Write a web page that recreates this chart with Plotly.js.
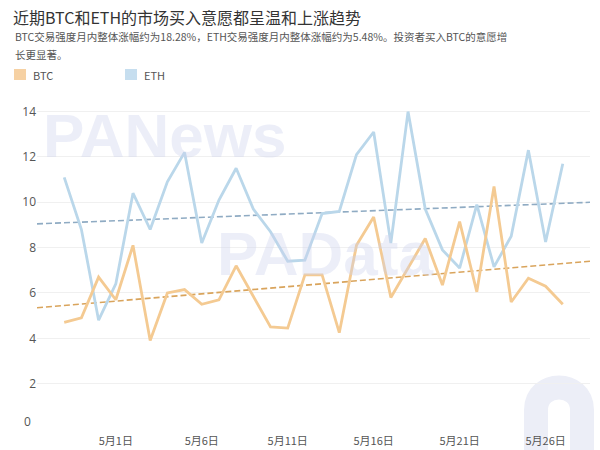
<!DOCTYPE html>
<html>
<head>
<meta charset="utf-8">
<script src="https://cdn.plot.ly/plotly-3.0.1.min.js"></script>
<style>html,body{margin:0;padding:0;background:#fff;}#chart{width:600px;height:450px;}</style>
</head>
<body>
<div id="chart"></div>
<script>
const dates = ['2021-04-28','2021-04-29','2021-04-30','2021-05-01','2021-05-02','2021-05-03','2021-05-04','2021-05-05','2021-05-06','2021-05-07',
  '2021-05-08','2021-05-09','2021-05-10','2021-05-11','2021-05-12','2021-05-13','2021-05-14','2021-05-15','2021-05-16','2021-05-17',
  '2021-05-18','2021-05-19','2021-05-20','2021-05-21','2021-05-22','2021-05-23','2021-05-24','2021-05-25','2021-05-26','2021-05-27'];
const btc = [4.7, 4.9, 6.7, 5.7, 8.1, 3.9, 6.0, 6.15, 5.5, 5.7,
  7.2, 5.85, 4.5, 4.45, 6.8, 6.8, 4.25, 8.1, 9.35, 5.8,
  7.1, 8.4, 6.35, 9.15, 6.05, 10.7, 5.6, 6.65, 6.3, 5.5];
const eth = [11.1, 8.8, 4.8, 6.4, 10.4, 8.8, 10.9, 12.2, 8.2, 10.1,
  11.5, 9.7, 8.7, 7.4, 7.45, 9.5, 9.6, 12.1, 13.1, 8.2,
  14.0, 9.7, 7.9, 7.1, 9.9, 7.15, 8.5, 12.3, 8.25, 11.7];
const xRange = ['2021-04-26 10:00', '2021-05-28 14:00'];
const btcTrend = [5.35, 7.4];
const ethTrend = [9.05, 10.0];
const tickDates = ['2021-05-01','2021-05-06','2021-05-11','2021-05-16','2021-05-21','2021-05-26'];
const tickLabels = ['5月1日','5月6日','5月11日','5月16日','5月21日','5月26日'];
const yTicks = [0, 2, 4, 6, 8, 10, 12, 14];
const yTickLabels = ['', '2', '4', '6', '8', '10', '12', '14'];
const titleText = '近期BTC和ETH的市场买入意愿都呈温和上涨趋势';
const subLine1 = 'BTC交易强度月内整体涨幅约为18.28%，ETH交易强度月内整体涨幅约为5.48%。投资者买入BTC的意愿增';
const subLine2 = '长更显著。';
const seriesNames = ['BTC', 'ETH'];

const W = 600, H = 450, L = 37, R = 10, T = 98, B = 21;
const pw = W - L - R, ph = H - T - B;
const px = x => (x - L) / pw;
const py = y => (H - B - y) / ph;

const cjk = '"Noto Sans CJK SC", "Noto Sans", sans-serif';
const btcColor = '#f4ca92', ethColor = '#bad7ea';

const traces = [
  {x: xRange, y: ethTrend, mode: 'lines', line: {color: '#8fabc3', width: 1.6, dash: '6px,3px'}, hoverinfo: 'skip', showlegend: false},
  {x: xRange, y: btcTrend, mode: 'lines', line: {color: '#d9a45c', width: 1.6, dash: '6px,3px'}, hoverinfo: 'skip', showlegend: false},
  {x: dates, y: eth, name: seriesNames[1], mode: 'lines', line: {color: ethColor, width: 2.8}, showlegend: false},
  {x: dates, y: btc, name: seriesNames[0], mode: 'lines', line: {color: btcColor, width: 2.8}, showlegend: false}
];

const wm = 'rgba(205,211,236,0.38)';
const layout = {
  width: W, height: H,
  margin: {l: L, r: R, t: T, b: B},
  paper_bgcolor: '#fff', plot_bgcolor: '#fff',
  font: {family: cjk, color: '#555'},
  title: {text: titleText, x: 13 / W, xanchor: 'left', xref: 'container', y: 1 - 18 / H, yanchor: 'middle', yref: 'container',
    font: {family: cjk, size: 16, color: '#333'}},
  xaxis: {type: 'date', range: xRange, tickvals: tickDates, ticktext: tickLabels, showgrid: false, zeroline: false,
    showline: false, ticks: '', ticklabelstandoff: 4, tickfont: {size: 11, color: '#555', family: cjk}},
  yaxis: {range: [0, 14.6], tickvals: yTicks, ticktext: yTickLabels, showgrid: true, gridcolor: '#f0f0f0', gridwidth: 1,
    zeroline: false, showline: false, ticks: '', tickfont: {size: 12, color: '#555', family: '"Open Sans", sans-serif'}},
  shapes: [
    {type: 'rect', xref: 'paper', yref: 'paper', x0: px(14), x1: px(26), y0: py(80), y1: py(69), fillcolor: '#f6d1a3', line: {width: 0}},
    {type: 'rect', xref: 'paper', yref: 'paper', x0: px(125), x1: px(137), y0: py(80), y1: py(69), fillcolor: '#c6deef', line: {width: 0}},
    {type: 'path', xref: 'paper', yref: 'paper', layer: 'below',
      path: 'M ' + px(536) + ',' + py(460) + ' L ' + px(536) + ',' + py(410) + ' C ' + px(536) + ',' + py(380) + ' ' + px(582) + ',' + py(380) + ' ' + px(582) + ',' + py(410) + ' L ' + px(582) + ',' + py(460),
      line: {color: '#eceef7', width: 24}}
  ],
  annotations: [
    {text: subLine1, xref: 'paper', yref: 'paper', x: px(13), y: py(36), xanchor: 'left', yanchor: 'middle', showarrow: false,
      font: {family: cjk, size: 10.5, color: '#555'}},
    {text: subLine2, xref: 'paper', yref: 'paper', x: px(13), y: py(54), xanchor: 'left', yanchor: 'middle', showarrow: false,
      font: {family: cjk, size: 10.5, color: '#555'}},
    {text: seriesNames[0], xref: 'paper', yref: 'paper', x: px(31), y: py(75), xanchor: 'left', yanchor: 'middle', showarrow: false,
      font: {family: cjk, size: 11, color: '#555'}},
    {text: seriesNames[1], xref: 'paper', yref: 'paper', x: px(142), y: py(75), xanchor: 'left', yanchor: 'middle', showarrow: false,
      font: {family: cjk, size: 11, color: '#555'}},
    {text: '0', xref: 'paper', yref: 'paper', x: px(33), y: py(421), xanchor: 'right', yanchor: 'middle', showarrow: false,
      font: {family: '"Open Sans", sans-serif', size: 12, color: '#555'}},
    {text: '<b>PANews</b>', xref: 'paper', yref: 'paper', x: px(165), y: py(135), xanchor: 'center', yanchor: 'middle', showarrow: false,
      font: {family: '"Liberation Sans", Arial, sans-serif', size: 62, color: wm}},
    {text: '<b>PAData</b>', xref: 'paper', yref: 'paper', x: px(325), y: py(253), xanchor: 'center', yanchor: 'middle', showarrow: false,
      font: {family: '"Liberation Sans", Arial, sans-serif', size: 62, color: wm}}
  ]
};

Plotly.newPlot('chart', traces, layout, {displayModeBar: false, staticPlot: true});
</script>
</body>
</html>
